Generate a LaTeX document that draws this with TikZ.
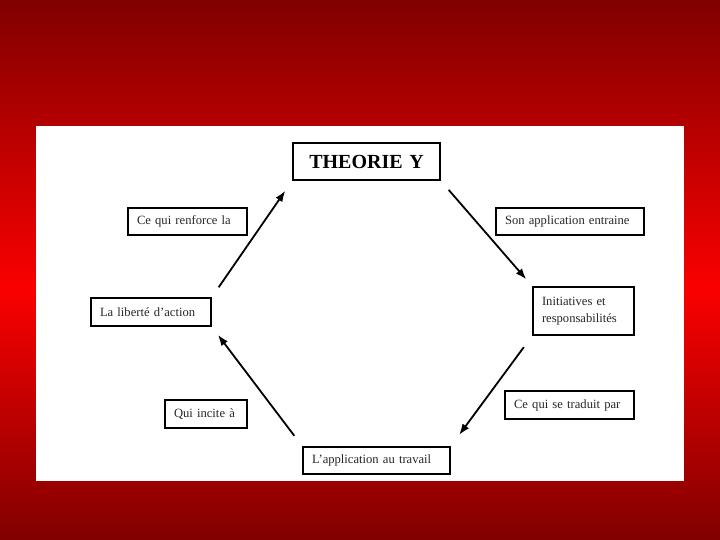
\documentclass[tikz,border=0pt]{standalone}
\usepackage{fontspec}
\setmainfont{Liberation Serif}
\usetikzlibrary{arrows.meta}
\definecolor{darkred}{RGB}{128,0,0}
\definecolor{brightred}{RGB}{250,0,0}
\begin{document}
\begin{tikzpicture}[x=1pt,y=-1pt,
  box/.style={draw=black, line width=1.7pt, fill=white, inner xsep=9pt, inner ysep=0pt,
    align=left, font=\fontsize{12.6}{17}\selectfont, text=black!85},
  arr/.style={line width=1.8pt, -{Latex[length=11pt,width=8pt]}}]
\useasboundingbox (0,0) rectangle (720,540);
\shade[top color=darkred, bottom color=brightred] (0,0) rectangle (720,290);
\shade[top color=brightred, bottom color=darkred] (0,290) rectangle (720,540);
\fill[white] (36,126) rectangle (684,481);
% nodes
\node[box, minimum height=37pt, text width=129pt, align=center,
  font=\bfseries\fontsize{20}{22}\selectfont, text=black] (theo) at (366.5,161.5) {THEORIE Y};
\node[box, minimum height=27pt, text width=101pt] (renf) at (187.5,221.5) {Ce qui renforce la};
\node[box, minimum height=27pt, text width=130pt] (son) at (570,221.5) {Son application entraine};
\node[box, minimum height=48pt, text width=83pt] (init) at (583.5,311) {Initiatives et\\responsabilités};
\node[box, minimum height=28pt, text width=102pt] (lib) at (151,312) {La liberté d’action};
\node[box, minimum height=28pt, text width=64pt] (qui) at (206,414) {Qui incite à};
\node[box, minimum height=28pt, text width=111pt] (trad) at (569.5,405) {Ce qui se traduit par};
\node[box, minimum height=27pt, text width=129pt] (app) at (376.5,460.5) {L’application au travail};
% arrows
\draw[arr, shorten <=12pt, shorten >=9pt] (theo.south east) -- (init.north west);
\draw[arr, shorten <=14pt, shorten >=14pt] (init.south west) -- (app.north east);
\draw[arr, shorten <=13pt, shorten >=10pt] (app.north west) -- (lib.south east);
\draw[arr, shorten <=12pt, shorten >=12pt] (lib.north east) -- (theo.south west);
\end{tikzpicture}
\end{document}
